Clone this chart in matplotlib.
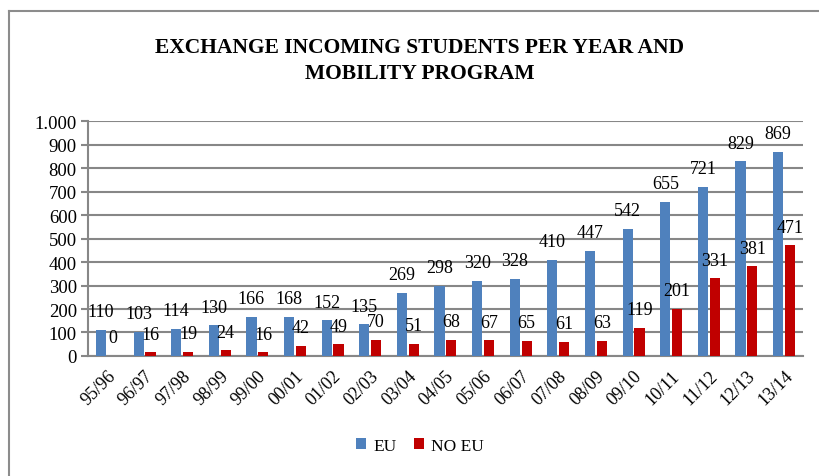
import matplotlib
matplotlib.use("Agg")
import matplotlib.pyplot as plt
import numpy as np
from matplotlib.lines import Line2D
from matplotlib.ticker import FuncFormatter

# data
years = ["95/96", "96/97", "97/98", "98/99", "99/00", "00/01", "01/02", "02/03", "03/04", "04/05",
         "05/06", "06/07", "07/08", "08/09", "09/10", "10/11", "11/12", "12/13", "13/14"]
eu = [110, 103, 114, 130, 166, 168, 152, 135, 269, 298, 320, 328, 410, 447, 542, 655, 721, 829, 869]
no_eu = [0, 16, 19, 24, 16, 42, 49, 70, 51, 68, 67, 65, 61, 63, 119, 201, 331, 381, 471]

plt.rcParams["font.family"] = ["Liberation Serif", "DejaVu Serif"]

fig = plt.figure(figsize=(8.2, 4.77), dpi=100)
ax = fig.add_axes([0.1073, 0.2516, 0.8717, 0.4924])

x = np.arange(len(years))
w = 0.27
b1 = ax.bar(x - 0.155, eu, w, color="#4F81BD", zorder=3)
b2 = ax.bar(x + 0.16, no_eu, w, color="#C00000", zorder=3)

for bars in (b1, b2):
    for r in bars:
        h = r.get_height()
        ax.annotate(f"{int(h)}", (r.get_x() + r.get_width() / 2, h), xytext=(0, 7),
                    textcoords="offset points", ha="center", va="bottom", fontsize=13, zorder=4)

ax.set_xlim(-0.5, len(years) - 0.5)
ax.set_ylim(0, 1000)
ax.set_yticks(np.arange(0, 1001, 100))
ax.yaxis.set_major_formatter(FuncFormatter(lambda v, p: f"{int(v):,}".replace(",", ".")))
ax.set_xticks(x)
ax.set_xticklabels(years, rotation=45, ha="right", rotation_mode="anchor")
ax.tick_params(axis="x", length=0, pad=8, labelsize=13)
ax.tick_params(axis="y", length=5, width=1.5, color="#878787", labelsize=13.5, pad=3)

ax.grid(axis="y", color="#878787", linewidth=1.5, zorder=0)
for s in ("top", "right"):
    ax.spines[s].set_visible(False)
for s in ("left", "bottom"):
    ax.spines[s].set_color("#878787")
    ax.spines[s].set_linewidth(1.5)

fig.text(0.512, 0.872, "EXCHANGE INCOMING STUDENTS PER YEAR AND\nMOBILITY PROGRAM",
         ha="center", va="center", fontsize=15.5, fontweight="bold", linespacing=1.45)

ax.legend([b1, b2], ["EU", "NO EU"], loc="center", bbox_to_anchor=(0.512, 0.063),
          bbox_transform=fig.transFigure, ncol=2, frameon=False, fontsize=12.5,
          handlelength=0.6, handleheight=0.6, handletextpad=0.4, columnspacing=1.0)

# partial frame around the chart (top and left edges)
fig.add_artist(Line2D([9 / 820, 1.0], [1 - 12 / 477, 1 - 12 / 477], transform=fig.transFigure,
                      color="#8C8C8C", linewidth=1.5))
fig.add_artist(Line2D([9 / 820, 9 / 820], [0, 1 - 12 / 477], transform=fig.transFigure,
                      color="#8C8C8C", linewidth=1.5))

fig.savefig("out.png", dpi=100)
